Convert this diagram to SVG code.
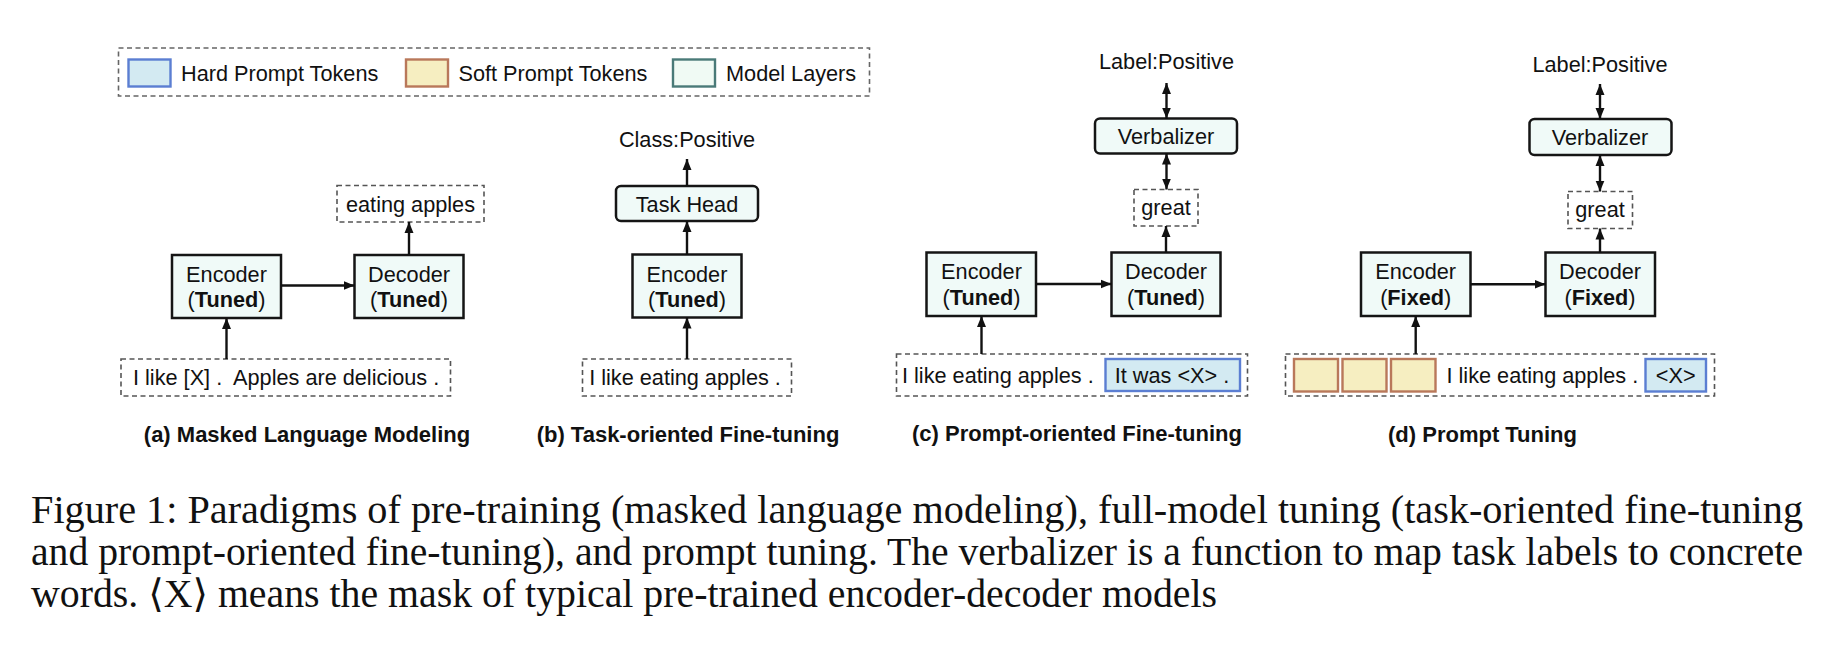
<svg xmlns="http://www.w3.org/2000/svg" width="1842" height="662" viewBox="0 0 1842 662">
<defs>
<marker id="ah" markerUnits="userSpaceOnUse" markerWidth="12" markerHeight="10" refX="11" refY="4.5" orient="auto-start-reverse" viewBox="0 0 12 9">
<path d="M0,0 L11,4.5 L0,9 z" fill="#111"/>
</marker>
<style>
.t{font-family:"Liberation Sans",Arial,Helvetica,sans-serif;font-size:21.7px;fill:#111}
.m{text-anchor:middle}
.b{font-weight:bold}
.cap{font-family:"Liberation Sans",Arial,Helvetica,sans-serif;font-size:22px;font-weight:bold;fill:#111;text-anchor:middle}
.fig{font-family:"Liberation Serif","Times New Roman","DejaVu Serif",serif;font-size:39px;fill:#111}
.model{fill:#F0FAF8;stroke:#151515;stroke-width:2.5}
.head{fill:#F0FAF8;stroke:#151515;stroke-width:2.5}
.dash{fill:none;stroke:#555;stroke-width:1.6;stroke-dasharray:5,3.5}
.hard{fill:#D3EAF2;stroke:#5B7ED2;stroke-width:2.4}
.soft{fill:#F6EEC1;stroke:#B9785A;stroke-width:2.4}
.leg-model{fill:#F0FAF4;stroke:#4A7A78;stroke-width:2.4}
.conn line{stroke:#111;stroke-width:2.4;fill:none}
</style>
</defs>
<rect width="1842" height="662" fill="#fff"/>

<g id="legend">
<rect class="dash" x="118.5" y="48" width="751" height="48" style="stroke:#666"/>
<rect class="hard" x="128.5" y="59.5" width="42" height="27"/>
<text class="t" x="181" y="81">Hard Prompt Tokens</text>
<rect class="soft" x="406" y="59.5" width="42" height="27"/>
<text class="t" x="458.5" y="81">Soft Prompt Tokens</text>
<rect class="leg-model" x="673" y="59.5" width="42" height="27"/>
<text class="t" x="726" y="81">Model Layers</text>
</g>

<!-- (a) -->
<g id="a-encoder">
<rect class="model" x="172" y="255" width="109" height="63"/>
<text class="t m" x="226.5" y="282">Encoder</text>
<text class="t m" x="226.5" y="307">(<tspan class="b">Tuned</tspan>)</text>
</g>
<g id="a-decoder">
<rect class="model" x="354.5" y="255" width="109" height="63"/>
<text class="t m" x="409" y="282">Decoder</text>
<text class="t m" x="409" y="307">(<tspan class="b">Tuned</tspan>)</text>
</g>
<g id="a-output">
<rect class="dash" x="337" y="185.5" width="147" height="36.5"/>
<text class="t m" x="410.5" y="211.5">eating apples</text>
</g>
<g id="a-input">
<rect class="dash" x="121" y="359" width="329.5" height="37"/>
<text class="t" x="133" y="385" xml:space="preserve">I like [X] .  Apples are delicious .</text>
</g>
<g id="a-caption"><text class="cap" x="307" y="441.5">(a) Masked Language Modeling</text></g>

<!-- (b) -->
<g id="b-label"><text class="t m" x="687" y="147">Class:Positive</text></g>
<g id="b-taskhead">
<rect class="head" x="616" y="186" width="142" height="35" rx="5"/>
<text class="t m" x="687" y="212">Task Head</text>
</g>
<g id="b-encoder">
<rect class="model" x="632.5" y="254.5" width="109" height="63"/>
<text class="t m" x="687" y="281.5">Encoder</text>
<text class="t m" x="687" y="306.5">(<tspan class="b">Tuned</tspan>)</text>
</g>
<g id="b-input">
<rect class="dash" x="582.5" y="359" width="209" height="37"/>
<text class="t m" x="685" y="385">I like eating apples .</text>
</g>
<g id="b-caption"><text class="cap" x="688" y="441.5">(b) Task-oriented Fine-tuning</text></g>

<!-- (c) -->
<g id="c-label"><text class="t m" x="1166.5" y="68.5">Label:Positive</text></g>
<g id="c-verbalizer">
<rect class="head" x="1095" y="118.5" width="142" height="35" rx="5"/>
<text class="t m" x="1166" y="144">Verbalizer</text>
</g>
<g id="c-great">
<rect class="dash" x="1134" y="189.5" width="64" height="36.5"/>
<text class="t m" x="1166" y="214.5">great</text>
</g>
<g id="c-encoder">
<rect class="model" x="926.5" y="252.5" width="109.5" height="63.5"/>
<text class="t m" x="981.5" y="279">Encoder</text>
<text class="t m" x="981.5" y="305">(<tspan class="b">Tuned</tspan>)</text>
</g>
<g id="c-decoder">
<rect class="model" x="1111.5" y="252.5" width="109" height="63.5"/>
<text class="t m" x="1166" y="279">Decoder</text>
<text class="t m" x="1166" y="305">(<tspan class="b">Tuned</tspan>)</text>
</g>
<g id="c-input">
<rect class="dash" x="896.5" y="354" width="351" height="42"/>
<text class="t" x="902" y="382.5">I like eating apples .</text>
<rect class="hard" x="1105.5" y="359" width="134.5" height="32"/>
<text class="t m" x="1172" y="382.5">It was &lt;X&gt; .</text>
</g>
<g id="c-caption"><text class="cap" x="1077" y="441">(c) Prompt-oriented Fine-tuning</text></g>

<!-- (d) -->
<g id="d-label"><text class="t m" x="1600" y="71.5">Label:Positive</text></g>
<g id="d-verbalizer">
<rect class="head" x="1529.5" y="119" width="142" height="36" rx="5"/>
<text class="t m" x="1600" y="145">Verbalizer</text>
</g>
<g id="d-great">
<rect class="dash" x="1568" y="191.5" width="64.5" height="37"/>
<text class="t m" x="1600" y="216.5">great</text>
</g>
<g id="d-encoder">
<rect class="model" x="1361" y="252.5" width="109.5" height="63.5"/>
<text class="t m" x="1415.7" y="279">Encoder</text>
<text class="t m" x="1415.7" y="305">(<tspan class="b">Fixed</tspan>)</text>
</g>
<g id="d-decoder">
<rect class="model" x="1545.5" y="252.5" width="109.5" height="63.5"/>
<text class="t m" x="1600" y="279">Decoder</text>
<text class="t m" x="1600" y="305">(<tspan class="b">Fixed</tspan>)</text>
</g>
<g id="d-input">
<rect class="dash" x="1285.5" y="354" width="429" height="42"/>
<rect class="soft" x="1294" y="359" width="44" height="32.5"/>
<rect class="soft" x="1342.5" y="359" width="44" height="32.5"/>
<rect class="soft" x="1391" y="359" width="44.5" height="32.5"/>
<text class="t" x="1446.5" y="382.5">I like eating apples .</text>
<rect class="hard" x="1645.5" y="359" width="60.5" height="32.5"/>
<text class="t m" x="1675.7" y="382.5">&lt;X&gt;</text>
</g>
<g id="d-caption"><text class="cap" x="1482.5" y="441.5">(d) Prompt Tuning</text></g>

<g id="connectors" class="conn">
<line x1="281" y1="285.5" x2="354.5" y2="285.5" marker-end="url(#ah)"/>
<line x1="409" y1="255" x2="409" y2="222" marker-end="url(#ah)"/>
<line x1="226.5" y1="359" x2="226.5" y2="318" marker-end="url(#ah)"/>

<line x1="687" y1="254.5" x2="687" y2="221" marker-end="url(#ah)"/>
<line x1="687" y1="186" x2="687" y2="159" marker-end="url(#ah)"/>
<line x1="687" y1="359" x2="687" y2="317.5" marker-end="url(#ah)"/>

<line x1="1166.5" y1="83" x2="1166.5" y2="118.5" marker-start="url(#ah)" marker-end="url(#ah)"/>
<line x1="1166.5" y1="153.5" x2="1166.5" y2="189.5" marker-start="url(#ah)" marker-end="url(#ah)"/>
<line x1="1166" y1="252.5" x2="1166" y2="226" marker-end="url(#ah)"/>
<line x1="1036" y1="284" x2="1111.5" y2="284" marker-end="url(#ah)"/>
<line x1="981.5" y1="354" x2="981.5" y2="316" marker-end="url(#ah)"/>

<line x1="1600" y1="84" x2="1600" y2="119" marker-start="url(#ah)" marker-end="url(#ah)"/>
<line x1="1600" y1="155" x2="1600" y2="191.5" marker-start="url(#ah)" marker-end="url(#ah)"/>
<line x1="1600" y1="252.5" x2="1600" y2="228.5" marker-end="url(#ah)"/>
<line x1="1470.5" y1="284.3" x2="1545.5" y2="284.3" marker-end="url(#ah)"/>
<line x1="1415.7" y1="354" x2="1415.7" y2="316" marker-end="url(#ah)"/>
</g>

<g id="figure-caption">
<text class="fig" x="31" y="523" textLength="1772" lengthAdjust="spacingAndGlyphs">Figure 1:  Paradigms of pre-training (masked language modeling), full-model tuning (task-oriented fine-tuning</text>
<text class="fig" x="31" y="565" textLength="1772" lengthAdjust="spacingAndGlyphs">and prompt-oriented fine-tuning), and prompt tuning.  The verbalizer is a function to map task labels to concrete</text>
<text class="fig" x="31" y="607" textLength="1186" lengthAdjust="spacingAndGlyphs">words.  ⟨X⟩  means the mask of typical pre-trained encoder-decoder models</text>
</g>
</svg>
